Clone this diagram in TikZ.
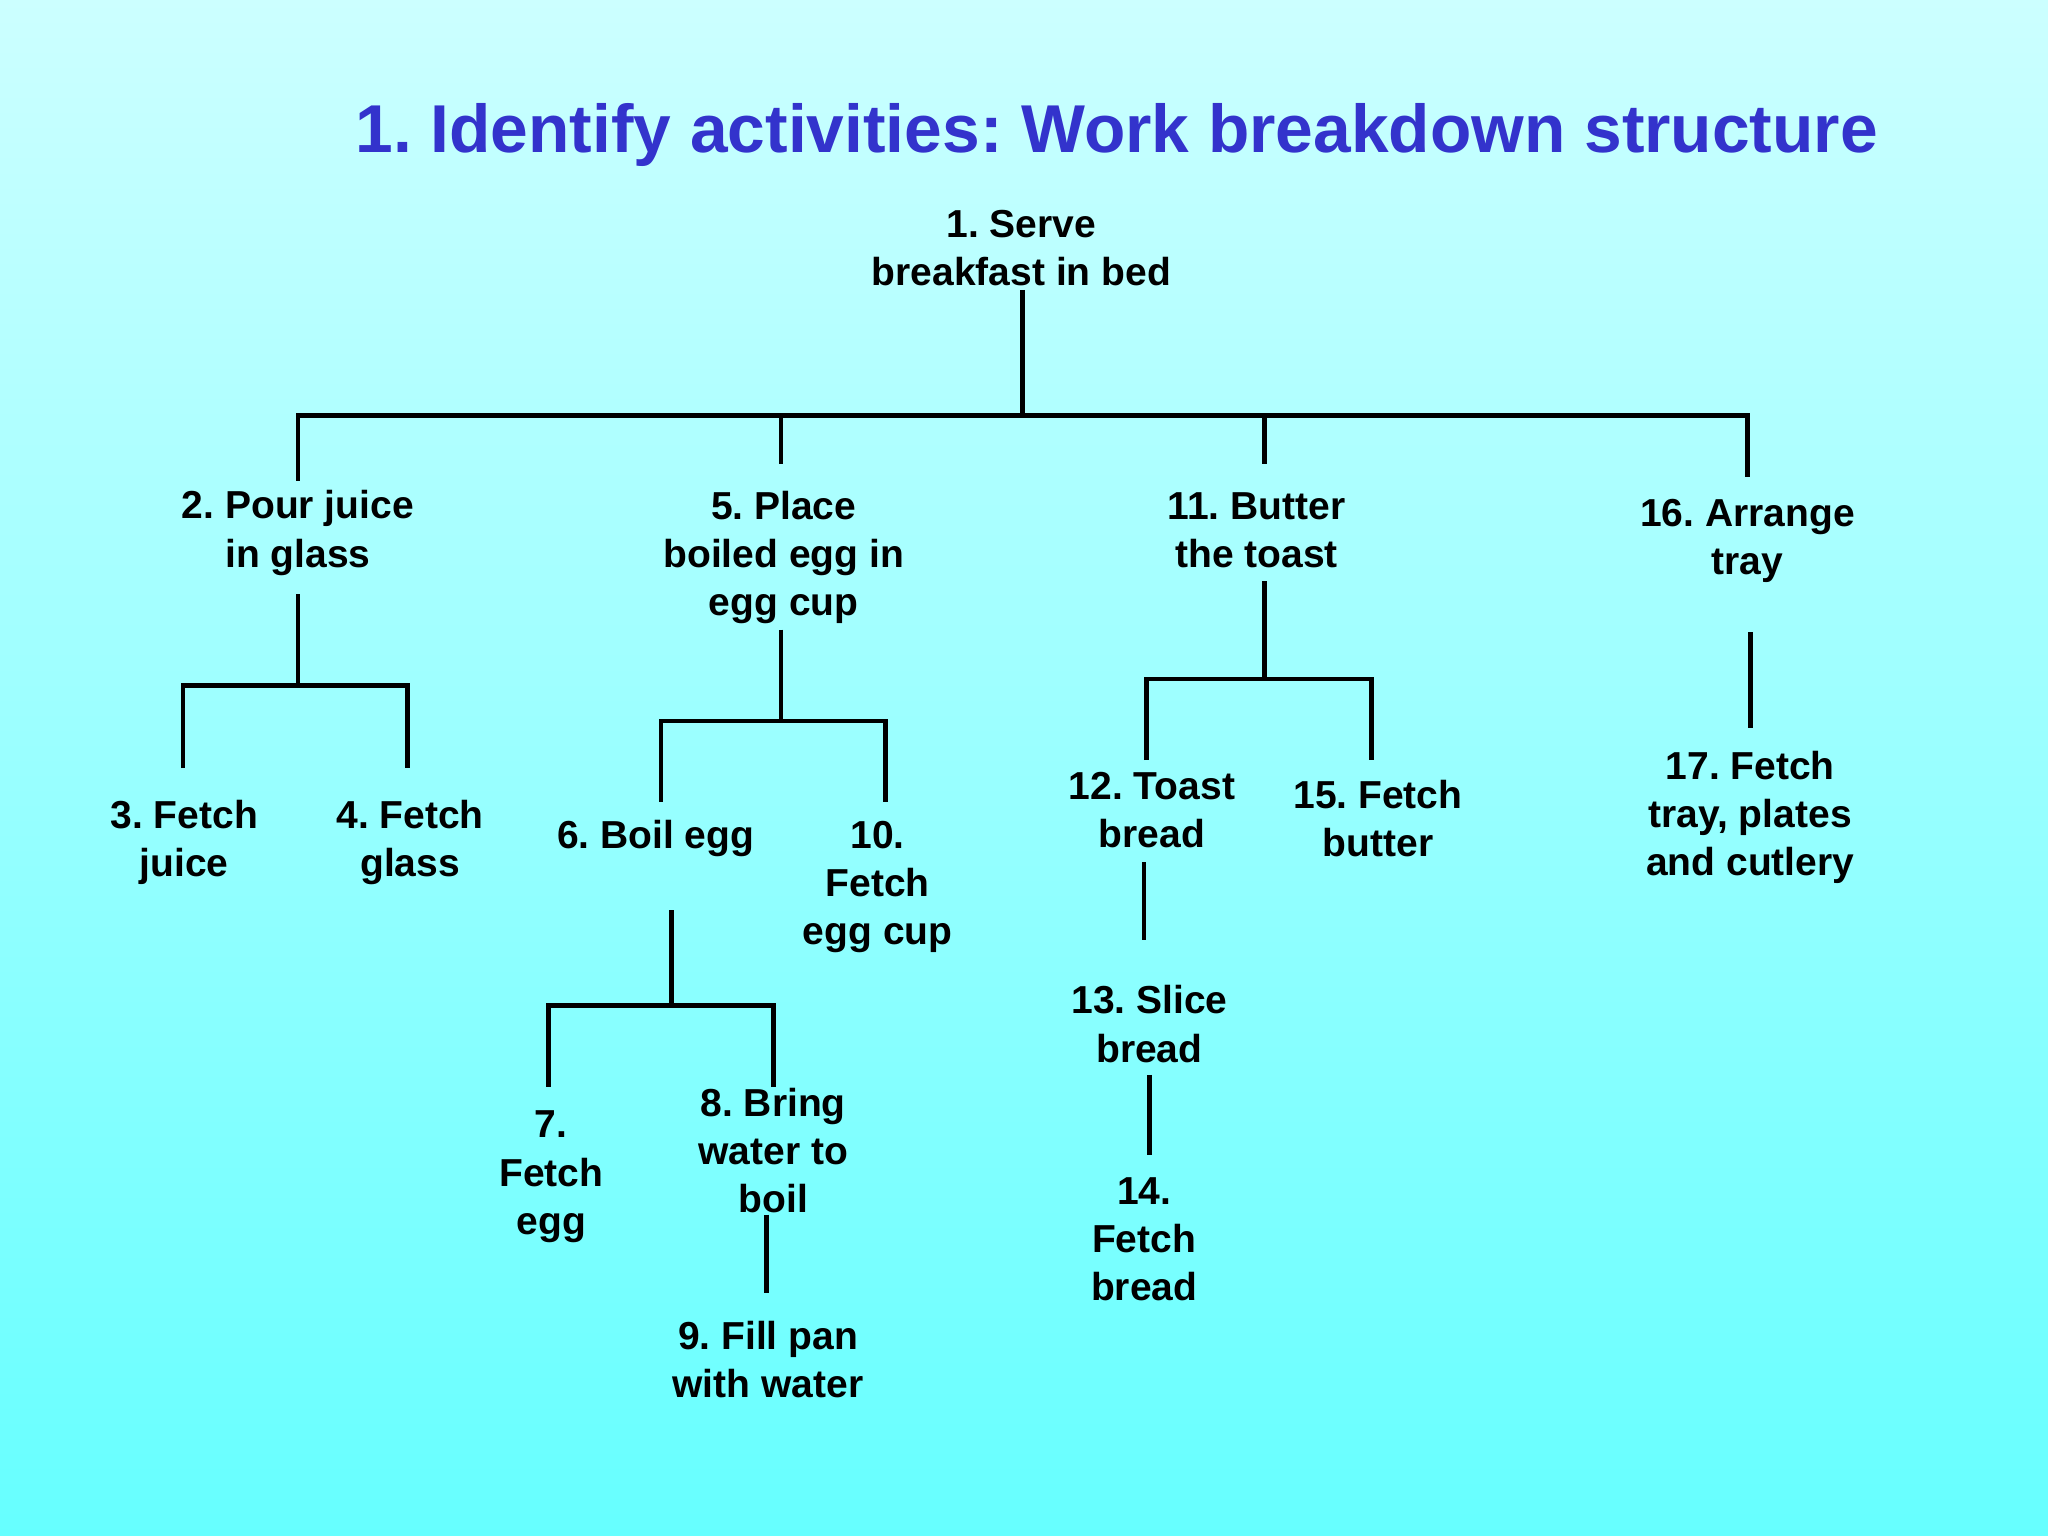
\documentclass[tikz,border=0pt]{standalone}
\usepackage{fontspec}
\setmainfont{Liberation Sans}
\frenchspacing
\begin{document}
\begin{tikzpicture}[x=0.02cm,y=-0.02cm,
  lab/.style={font=\bfseries\fontsize{17}{21}\selectfont,align=center,text=black,inner sep=0pt},
  ln/.style={line width=2pt,black}]
\shade[top color={rgb,255:red,204;green,255;blue,255},bottom color={rgb,255:red,102;green,255;blue,255}] (0,0) rectangle (1568,1176);
\useasboundingbox (0,0) rectangle (1568,1176);
\node[font=\bfseries\fontsize{29.5}{34}\selectfont,text={rgb,255:red,51;green,51;blue,204}] (title) at (855,103) {1. Identify activities: Work breakdown structure};
\node[lab] (n1) at (782,190) {1. Serve\\breakfast in bed};
\node[lab] (n2) at (228,408) {2. Pour juice\\in glass};
\node[lab] (n5) at (600,427) {5. Place\\boiled egg in\\egg cup};
\node[lab] (n11) at (962,406) {11. Butter\\the toast};
\node[lab] (n16) at (1338,414) {16. Arrange\\tray};
\node[lab] (n3) at (141,645) {3. Fetch\\juice};
\node[lab] (n4) at (314,645) {4. Fetch\\glass};
\node[lab] (n6) at (502,642) {6. Boil egg};
\node[lab] (n10) at (672,679) {10.\\Fetch\\egg cup};
\node[lab] (n7) at (422,901) {7.\\Fetch\\egg};
\node[lab] (n8) at (592,881) {8. Bring\\water to\\boil};
\node[lab] (n9) at (588,1041) {9. Fill pan\\with water};
\node[lab] (n12) at (882,620) {12. Toast\\bread};
\node[lab] (n15) at (1055,627) {15. Fetch\\butter};
\node[lab] (n13) at (880,784) {13. Slice\\bread};
\node[lab] (n14) at (876,949) {14.\\Fetch\\bread};
\node[lab] (n17) at (1340,626) {17. Fetch\\tray, plates\\and cutlery};
% level 1
\draw[ln] (783,222) -- (783,318);
\draw[ln] (228,368) -- (228,318) -- (1338,318) -- (1338,365);
\draw[ln] (598,318) -- (598,355);
\draw[ln] (968,318) -- (968,355);
% under 2
\draw[ln] (228,455) -- (228,525);
\draw[ln] (140,588) -- (140,525) -- (312,525) -- (312,588);
% under 5
\draw[ln] (598,482) -- (598,552);
\draw[ln] (506,614) -- (506,552) -- (678,552) -- (678,614);
% under 6
\draw[ln] (514,697) -- (514,770);
\draw[ln] (420,832) -- (420,770) -- (592,770) -- (592,832);
\draw[ln] (587,930) -- (587,990);
% under 11
\draw[ln] (968,445) -- (968,520);
\draw[ln] (878,582) -- (878,520) -- (1050,520) -- (1050,582);
\draw[ln] (876,660) -- (876,720);
\draw[ln] (880,823) -- (880,884);
% under 16
\draw[ln] (1340,484) -- (1340,557);
\end{tikzpicture}
\end{document}
